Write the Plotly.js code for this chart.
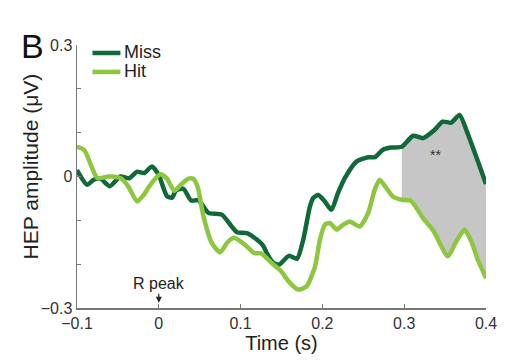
<!DOCTYPE html>
<html>
<head>
<meta charset="utf-8">
<script src="https://cdn.plot.ly/plotly-3.0.1.min.js"></script>
<style>html,body{margin:0;padding:0;background:#fff;}#chart{width:532px;height:364px;}</style>
</head>
<body>
<div id="chart"></div>
<script>
// Miss (dark green)
var missTime = [-0.1,-0.099,-0.0876,-0.0795,-0.0713,-0.060,-0.047,-0.036,-0.0266,-0.0177,-0.0083,-0.0002,0.010,0.016,0.0213,0.030,0.0396,0.0485,0.0607,0.077,0.0954,0.1076,0.1198,0.128,0.132,0.140,0.147,0.159,0.169,0.1766,0.1848,0.1888,0.195,0.203,0.211,0.219,0.2274,0.2417,0.256,0.264,0.274,0.284,0.297,0.311,0.323,0.337,0.347,0.3576,0.3677,0.376,0.388,0.4];
var missAmp = [0.015,0.011,-0.019,-0.0075,-0.005,-0.022,0.0,-0.004,0.011,0.008,0.023,0.004,-0.045,-0.0485,-0.031,-0.028,-0.055,-0.054,-0.083,-0.087,-0.127,-0.129,-0.144,-0.159,-0.175,-0.197,-0.201,-0.181,-0.1875,-0.144,-0.068,-0.049,-0.042,-0.057,-0.076,-0.038,-0.0036,0.034,0.044,0.044,0.061,0.066,0.068,0.093,0.0875,0.106,0.125,0.123,0.1406,0.106,0.0456,-0.017];
// Hit (light green)
var hitTime = [-0.1,-0.0909,-0.0815,-0.075,-0.062,-0.0567,-0.0457,-0.0372,-0.0266,-0.0185,-0.0104,0.0018,0.010,0.0189,0.0274,0.0363,0.042,0.0476,0.0546,0.0649,0.075,0.0841,0.092,0.1055,0.1165,0.125,0.1378,0.149,0.160,0.1705,0.1807,0.191,0.197,0.203,0.209,0.2173,0.2254,0.2335,0.2457,0.256,0.264,0.270,0.278,0.286,0.297,0.308,0.323,0.336,0.3534,0.3637,0.3738,0.382,0.390,0.4];
var hitAmp = [0.068,0.060,0.019,-0.0036,0.0,0.0,-0.005,-0.023,-0.057,-0.042,-0.019,0.005,-0.005,-0.0326,-0.018,-0.005,-0.005,-0.0246,-0.091,-0.152,-0.173,-0.150,-0.140,-0.156,-0.1745,-0.1755,-0.197,-0.215,-0.242,-0.258,-0.2506,-0.205,-0.144,-0.110,-0.106,-0.121,-0.110,-0.1025,-0.114,-0.083,-0.030,-0.0075,-0.026,-0.0456,-0.053,-0.055,-0.0948,-0.125,-0.182,-0.148,-0.121,-0.148,-0.190,-0.2315];
// significant window
var sigWindow = [0.297, 0.4];
var seriesNames = ['Miss', 'Hit'];
var xTicks = [-0.1, 0, 0.1, 0.2, 0.3, 0.4];
var xTickText = ['\u22120.1','0','0.1','0.2','0.3','0.4'];
var yTicks = [-0.3,-0.2,-0.1,0,0.1,0.2,0.3];
var yTickText = ['\u22120.3','','','0','','','0.3'];

var COLORS = ['#11693a', '#8dc63f'];

// build shaded polygon from the two series inside the window
var shX = [], shY = [];
for (var i = 0; i < missTime.length; i++) {
  if (missTime[i] >= sigWindow[0] && missTime[i] <= sigWindow[1]) { shX.push(missTime[i]); shY.push(missAmp[i]); }
}
for (var j = hitTime.length - 1; j >= 0; j--) {
  if (hitTime[j] >= sigWindow[0] && hitTime[j] <= sigWindow[1]) { shX.push(hitTime[j]); shY.push(hitAmp[j]); }
}

var FONT = 'Liberation Sans, Arial, sans-serif';
var traces = [
  {x: shX, y: shY, type: 'scatter', mode: 'lines', fill: 'toself', fillcolor: '#c6c6c6',
   line: {width: 0, color: 'rgba(0,0,0,0)', shape: 'spline', smoothing: 0.6}, showlegend: false, hoverinfo: 'skip'},
  {x: missTime, y: missAmp, type: 'scatter', mode: 'lines', name: seriesNames[0], showlegend: false,
   line: {color: COLORS[0], width: 4.5, shape: 'spline', smoothing: 0.6}},
  {x: hitTime, y: hitAmp, type: 'scatter', mode: 'lines', name: seriesNames[1], showlegend: false,
   line: {color: COLORS[1], width: 4.5, shape: 'spline', smoothing: 0.6}}
];

var L = 76.5, R = 45.5, T = 45, B = 55.5, W = 532, H = 364;
var pw = W - L - R, ph = H - T - B;
function px(x) { return (x - L) / pw; }
function py(y) { return (H - B - y) / ph; }

var shapes = [], legendAnn = [];
var legY = [53, 72];
for (var k = 0; k < seriesNames.length; k++) {
  shapes.push({type: 'line', xref: 'paper', yref: 'paper', x0: px(92), x1: px(120), y0: py(legY[k]), y1: py(legY[k]),
               line: {color: COLORS[k], width: 4.5}});
  legendAnn.push({xref: 'paper', yref: 'paper', x: px(123), y: py(legY[k] - 1), xanchor: 'left', yanchor: 'middle',
                  text: seriesNames[k], showarrow: false, font: {size: 18, color: '#222'}, borderpad: 0});
}

var layout = {
  width: W, height: H,
  margin: {l: L, r: R, t: T, b: B},
  paper_bgcolor: '#fff', plot_bgcolor: '#fff',
  font: {family: FONT, color: '#333', size: 13},
  showlegend: false,
  xaxis: {range: [-0.1, 0.4], tickmode: 'array', tickvals: xTicks, ticktext: xTickText,
          showline: true, linecolor: '#777', linewidth: 1.5, ticks: 'inside', ticklen: 4, tickcolor: '#777',
          showgrid: false, zeroline: false, tickfont: {size: 16, color: '#333'},
          title: {text: 'Time (s)', font: {size: 20, color: '#222'}, standoff: 2}},
  yaxis: {range: [-0.3, 0.3], tickmode: 'array', tickvals: yTicks, ticktext: yTickText,
          showline: true, linecolor: '#777', linewidth: 1.5, ticks: 'inside', ticklen: 4, tickcolor: '#777',
          showgrid: false, zeroline: false, tickfont: {size: 16, color: '#333'}},
  shapes: shapes,
  annotations: [
    {x: px(30), y: py(167), xref: 'paper', yref: 'paper', xanchor: 'center', yanchor: 'middle', textangle: -90,
     text: 'HEP amplitude (\u03bcV)', showarrow: false, font: {size: 21, color: '#222'}},
    {x: 0, y: -0.288, xref: 'x', yref: 'y', text: 'R peak', showarrow: true, ax: 0, ay: -19,
     arrowhead: 2, arrowsize: 1, arrowwidth: 1.2, arrowcolor: '#222', font: {size: 16, color: '#222'}},
    {x: 0.338, y: 0.05, xref: 'x', yref: 'y', text: '**', showarrow: false, font: {size: 14, color: '#333'}},
    {x: px(32), y: py(46), xref: 'paper', yref: 'paper', xanchor: 'center', yanchor: 'middle',
     text: 'B', showarrow: false, font: {size: 34, color: '#111'}}
  ].concat(legendAnn)
};

Plotly.newPlot('chart', traces, layout, {displayModeBar: false, staticPlot: true});
</script>
</body>
</html>
